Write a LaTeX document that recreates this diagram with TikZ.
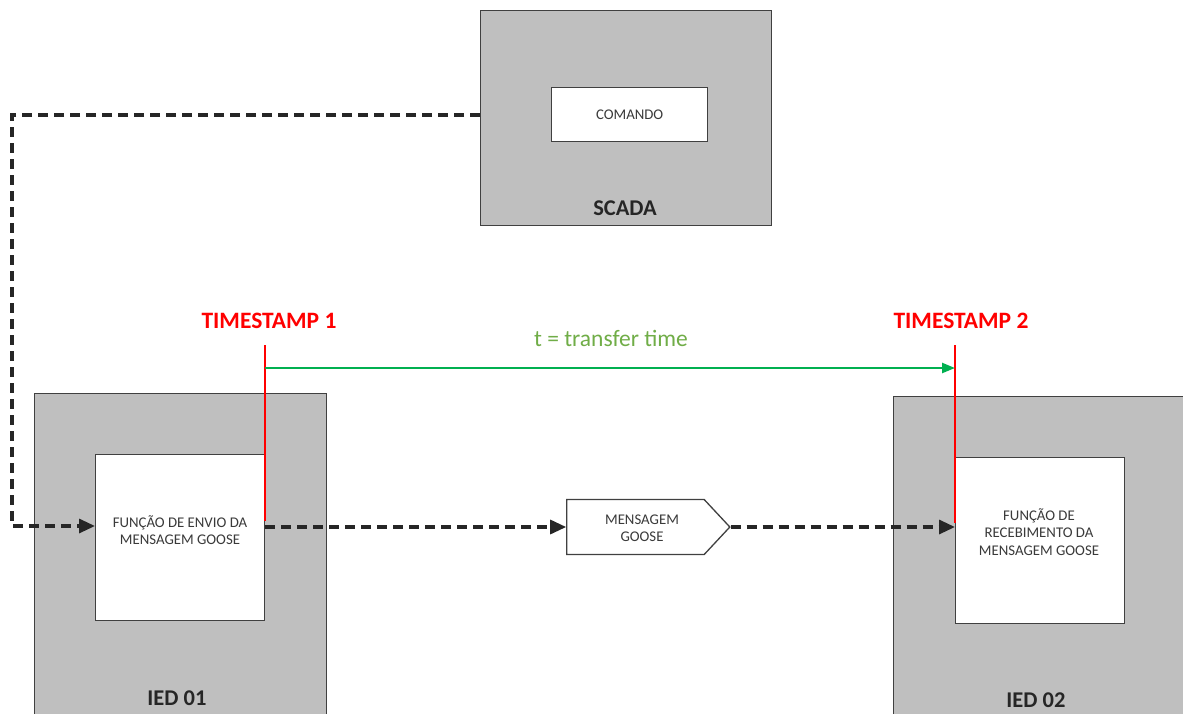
\documentclass[tikz,border=0pt]{standalone}
\usepackage{fontspec}
\setmainfont{Carlito}
\usetikzlibrary{arrows.meta,shapes.symbols,calc}
\definecolor{boxgray}{HTML}{BFBFBF}
\definecolor{edge}{HTML}{404040}
\definecolor{txt}{HTML}{3A3A3A}
\definecolor{tsred}{HTML}{FF0000}
\definecolor{arrgreen}{HTML}{00B050}
\definecolor{lblgreen}{HTML}{70AD47}
\tikzset{
  outerbox/.style={draw=edge, line width=1.3pt, fill=boxgray, anchor=north west, inner sep=0pt},
  innerbox/.style={draw=edge, line width=1.3pt, fill=white, anchor=north west, inner sep=0pt},
  smalltxt/.style={text=txt, font=\fontsize{14.8}{17.5}\selectfont, align=center},
  boxlabel/.style={text=black!85, font=\fontsize{22.5}{26}\selectfont\bfseries},
  stamplabel/.style={text=tsred, font=\fontsize{23.5}{27}\selectfont\bfseries},
  dashflow/.style={line width=3.2pt, dash pattern=on 10pt off 6pt, black!85,
    -{Triangle[length=16pt,width=14pt]}},
  stampline/.style={tsred, line width=2.2pt},
}
\begin{document}
\begin{tikzpicture}[x=1pt,y=-1pt]
\useasboundingbox (0,0) rectangle (1183,713);
\clip (0,0) rectangle (1183,713);
\fill[white] (0,0) rectangle (1183,713);

% SCADA station
\node[outerbox, minimum width=291pt, minimum height=215pt] (scada) at (480,10) {};
\node[innerbox, minimum width=156pt, minimum height=54pt] (cmd) at (551,87) {};
\node[smalltxt] (cmdtxt) at (cmd.center) {COMANDO};
\node[boxlabel] (scadalbl) at (625,208) {SCADA};

% IED 01 (sender)
\node[outerbox, minimum width=292pt, minimum height=340pt] (ied1) at (34,393) {};
\node[innerbox, minimum width=169pt, minimum height=166pt] (f1) at (95,454) {};
\node[smalltxt] (f1txt) at (180,530) {FUNÇÃO DE ENVIO DA\\MENSAGEM GOOSE};
\node[boxlabel] (ied1lbl) at (177,698) {IED 01};

% IED 02 (receiver)
\node[outerbox, minimum width=310pt, minimum height=340pt] (ied2) at (893,396) {};
\node[innerbox, minimum width=169pt, minimum height=166pt] (f2) at (955,457) {};
\node[smalltxt] (f2txt) at (1039,532) {FUNÇÃO DE\\RECEBIMENTO DA\\MENSAGEM GOOSE};
\node[boxlabel] (ied2lbl) at (1036,700) {IED 02};

% GOOSE message
\node[draw=edge, line width=1.3pt, fill=white, signal, signal to=east,
      signal pointer angle=94, minimum width=163pt, minimum height=55pt,
      inner sep=0pt] (msg) at (635.5,527) {};
\node[smalltxt] (msgtxt) at (642,528) {MENSAGEM\\GOOSE};

% Timestamps
\node[stamplabel] (ts1) at (269,321) {TIMESTAMP 1};
\node[stamplabel] (ts2) at (961,321) {TIMESTAMP 2};
\coordinate (t1top) at (265,345);
\coordinate (t1bot) at (265,521);
\coordinate (t2top) at (955,345);
\coordinate (t2bot) at (955,523);

% Command path SCADA -> IED 01
\coordinate (cmdturn) at (12,115);
\coordinate (f1in) at (95,526);
\draw[dashflow] (scada.west |- cmdturn) -- (cmdturn) |- (f1in);

% GOOSE path
\coordinate (f1out) at (265,527);
\draw[dashflow] (f1out) -- (msg.west);
\draw[dashflow] (msg.east) -- (f2.west |- msg.east);

% Timestamp markers
\draw[stampline] (t1top) -- (t1bot);
\draw[stampline] (t2top) -- (t2bot);

% Transfer time
\draw[arrgreen, line width=2.4pt, -{Triangle[length=13pt,width=10pt]}]
  ($(t1top)+(0,23)$) -- ($(t2top)+(0,23)$);
\node[text=lblgreen, font=\fontsize{23.5}{27}\selectfont] (tt) at (611,338) {t = transfer time};
\end{tikzpicture}
\end{document}
